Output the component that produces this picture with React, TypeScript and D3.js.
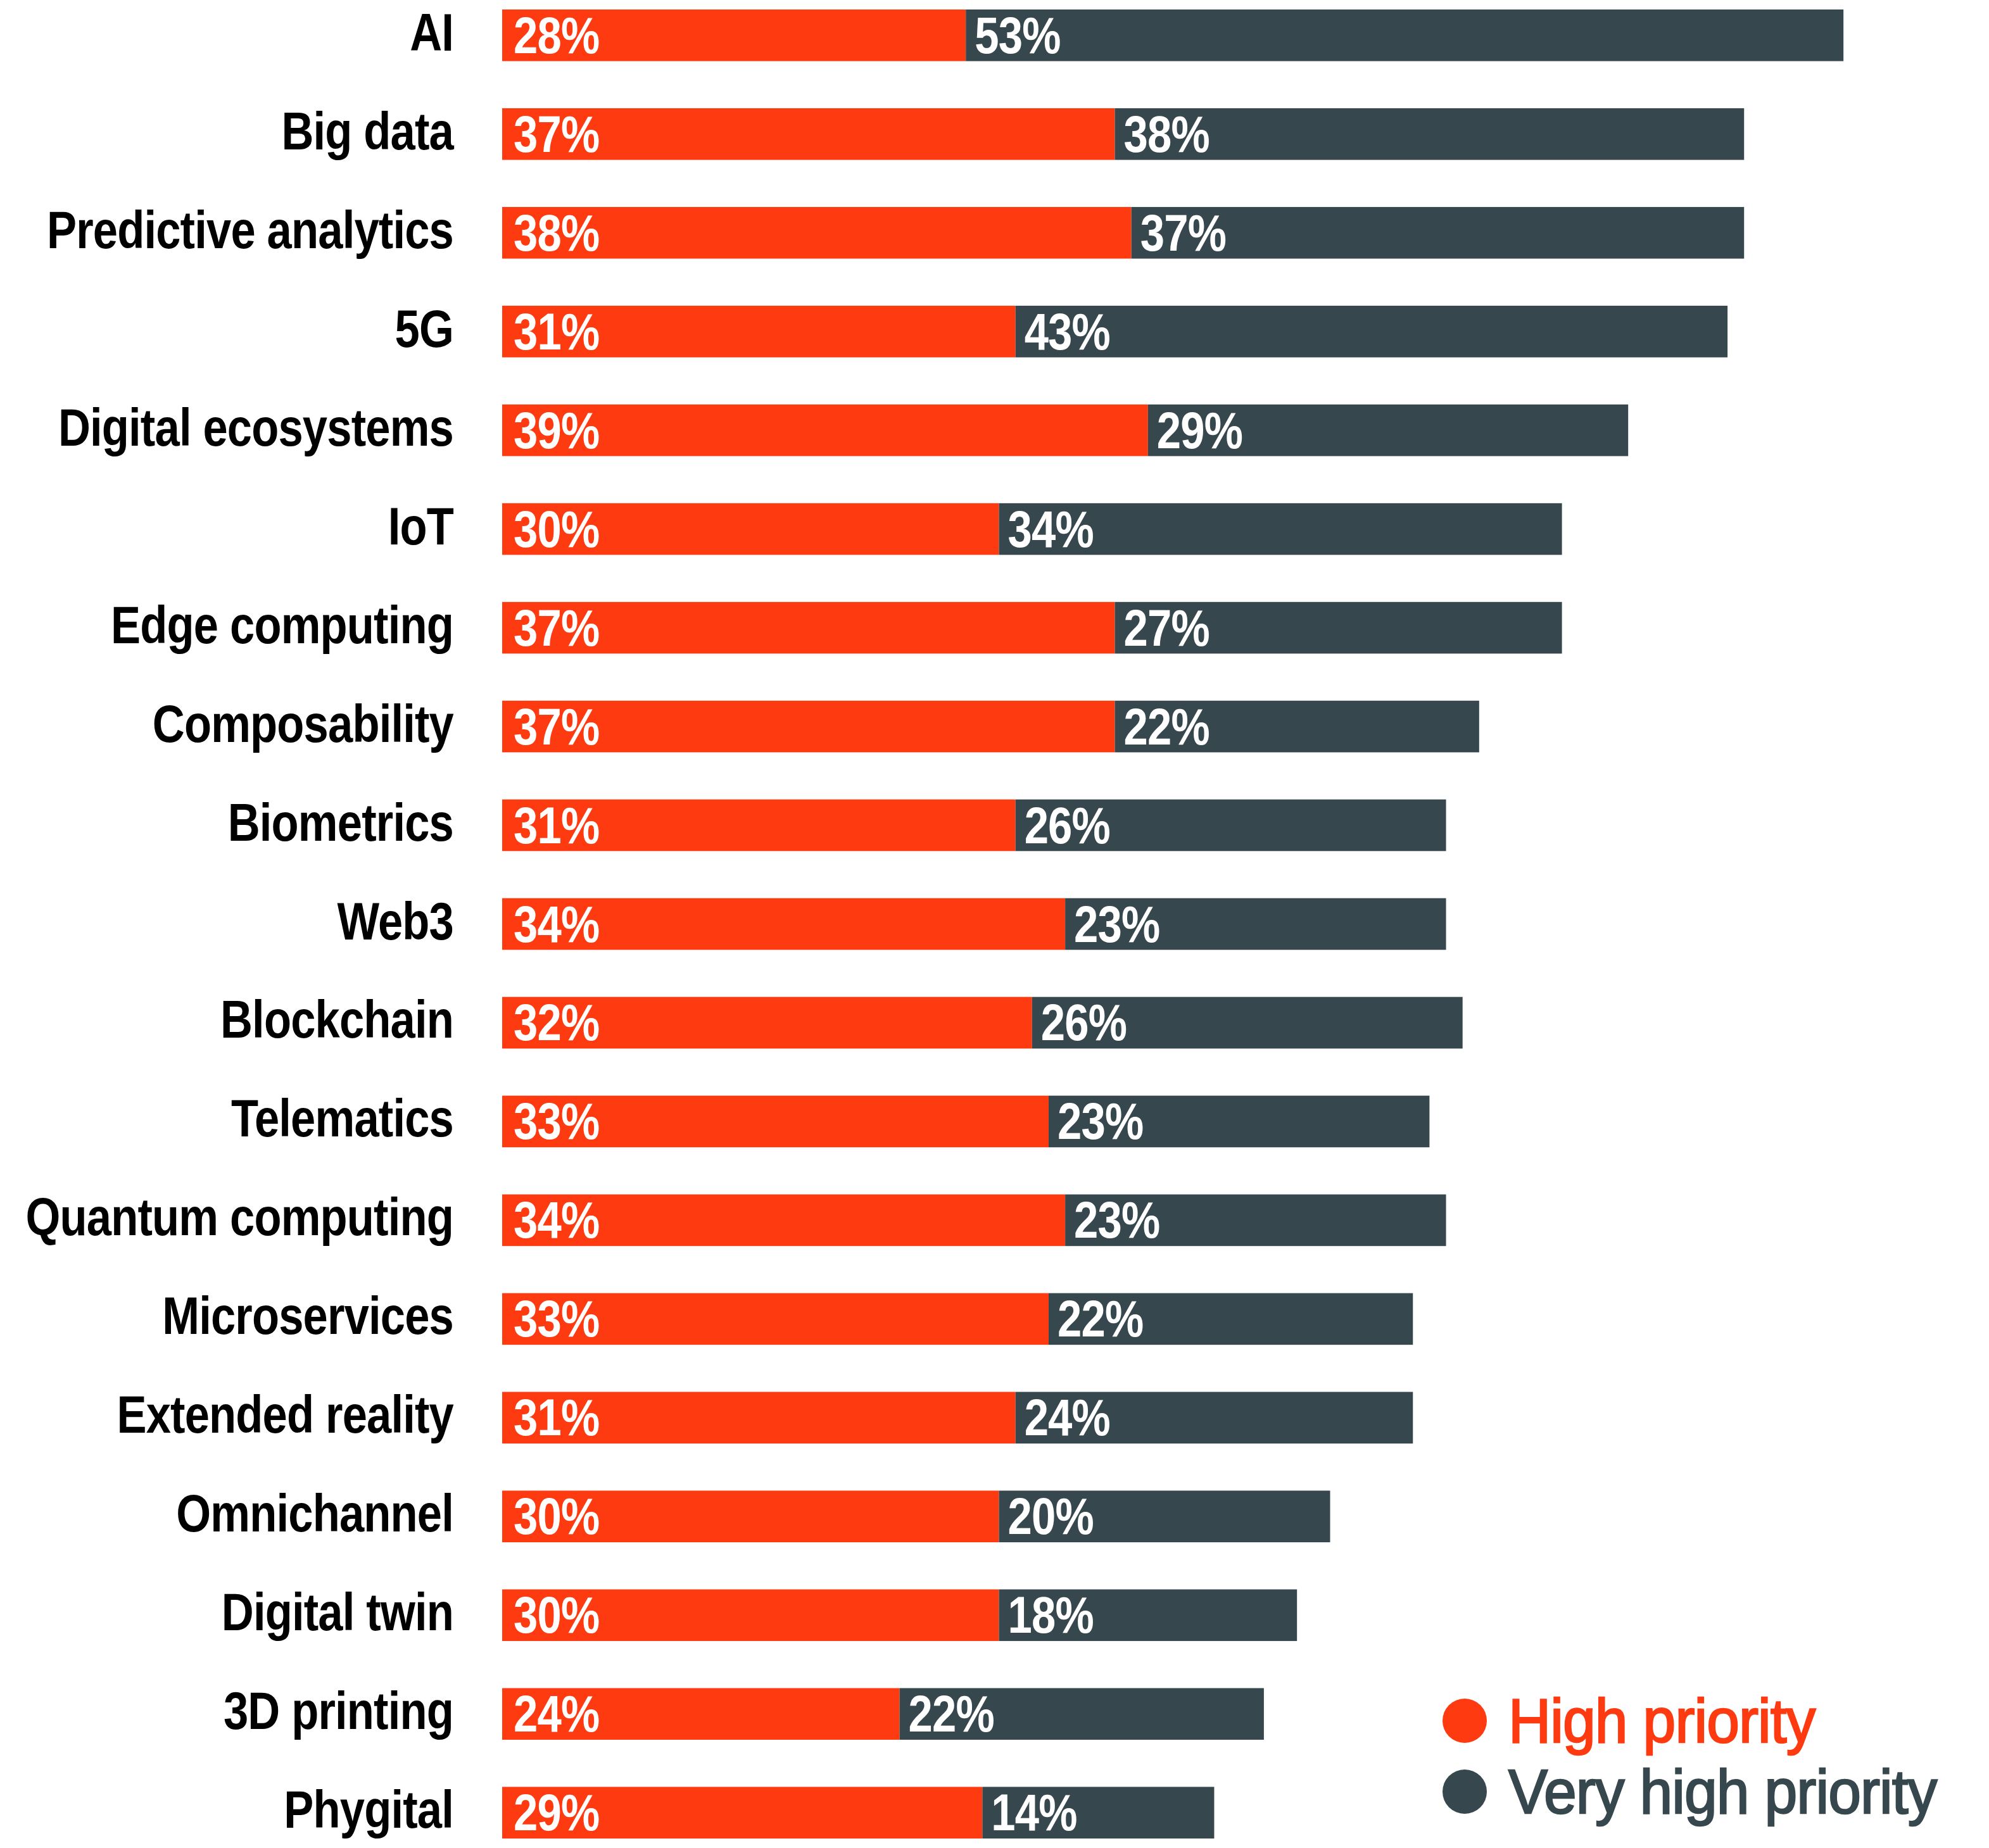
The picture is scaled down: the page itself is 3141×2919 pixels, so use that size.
import React from "react";
import * as d3 from "d3";

const categories = [
  "AI",
  "Big data",
  "Predictive analytics",
  "5G",
  "Digital ecosystems",
  "IoT",
  "Edge computing",
  "Composability",
  "Biometrics",
  "Web3",
  "Blockchain",
  "Telematics",
  "Quantum computing",
  "Microservices",
  "Extended reality",
  "Omnichannel",
  "Digital twin",
  "3D printing",
  "Phygital",
];

const highPriority = [28, 37, 38, 31, 39, 30, 37, 37, 31, 34, 32, 33, 34, 33, 31, 30, 30, 24, 29];
const veryHighPriority = [53, 38, 37, 43, 29, 34, 27, 22, 26, 23, 26, 23, 23, 22, 24, 20, 18, 22, 14];

const seriesNames = ["High priority", "Very high priority"];
const seriesColors = ["#fd3a10", "#37474e"];

const WIDTH = 3141;
const HEIGHT = 2919;
const FONT = "'Liberation Sans', Arial, Helvetica, sans-serif";

// Condensed bold label: glyphs squeezed horizontally around the anchor point
function CondensedText(props: {
  x: number;
  y: number;
  size: number;
  fill: string;
  anchor?: "start" | "end";
  squeeze?: number;
  children: React.ReactNode;
}) {
  const { x, y, size, fill, anchor = "start", squeeze = 0.84, children } = props;
  return (
    <text
      transform={`translate(${x},${y}) scale(${squeeze},1)`}
      textAnchor={anchor}
      fontFamily={FONT}
      fontWeight={700}
      fontSize={size}
      fill={fill}
      letterSpacing={-1}
    >
      {children}
    </text>
  );
}

export default function App() {
  const x = d3.scaleLinear().domain([0, 81]).range([793, 793 + 81 * 26.15]);
  const y = d3
    .scaleBand<string>()
    .domain(categories)
    .range([15, 2904])
    .paddingInner(0.477)
    .paddingOuter(0);

  const bw = y.bandwidth();

  return (
    <svg
      width={WIDTH}
      height={HEIGHT}
      viewBox={`0 0 ${WIDTH} ${HEIGHT}`}
      style={{ position: "absolute", left: 0, top: 0, background: "#fff" }}
    >
      <rect width={WIDTH} height={HEIGHT} fill="#fff" />
      {categories.map((c, i) => {
        const y0 = y(c)!;
        const cy = y0 + bw / 2;
        const h = highPriority[i];
        const v = veryHighPriority[i];
        return (
          <g key={c}>
            <CondensedText x={716} y={cy + 24} size={84} fill="#000" anchor="end">
              {c}
            </CondensedText>
            <rect x={x(0)} y={y0} width={x(h) - x(0)} height={bw} fill={seriesColors[0]} />
            <rect x={x(h)} y={y0} width={x(h + v) - x(h)} height={bw} fill={seriesColors[1]} />
            <CondensedText x={x(0) + 18} y={cy + 28} size={82} fill="#fff">
              {`${h}%`}
            </CondensedText>
            <CondensedText x={x(h) + 14} y={cy + 28} size={82} fill="#fff">
              {`${v}%`}
            </CondensedText>
          </g>
        );
      })}
      {seriesNames.map((s, i) => {
        const cy = 2718 + i * 112;
        return (
          <g key={s}>
            <circle cx={2313} cy={cy} r={35} fill={seriesColors[i]} />
            <text
              transform={`translate(2382,${cy + 34}) scale(0.95,1)`}
              fontFamily={FONT}
              fontWeight={400}
              fontSize={98}
              fill={seriesColors[i]}
              stroke={seriesColors[i]}
              strokeWidth={2.5}
              letterSpacing={-1}
            >
              {s}
            </text>
          </g>
        );
      })}
    </svg>
  );
}
